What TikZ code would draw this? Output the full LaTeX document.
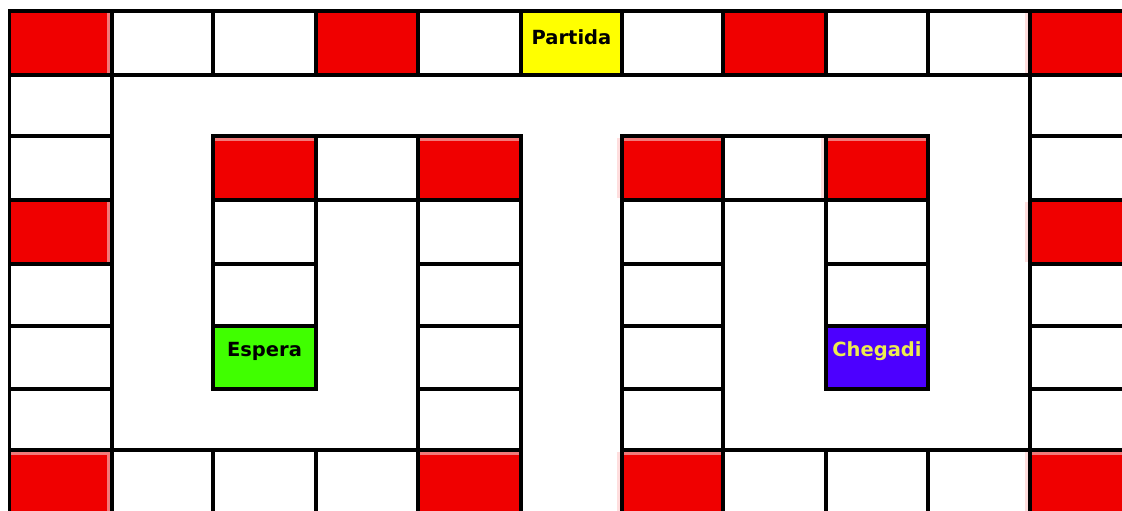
\documentclass[tikz,border=0pt]{standalone}
\usepackage{fontspec}
\newfontfamily\lblfont{DejaVu Sans}[BoldFont={DejaVu Sans Bold}]
\definecolor{boardred}{RGB}{240,0,0}
\definecolor{striplight}{RGB}{242,122,122}
\definecolor{pinkfaint}{RGB}{255,222,222}
\definecolor{startyellow}{RGB}{255,255,0}
\definecolor{waitgreen}{RGB}{64,255,0}
\definecolor{goalblue}{RGB}{76,0,255}
\definecolor{goaltext}{RGB}{236,236,80}
\tikzset{
  cellbox/.style={draw=black, line width=3.3pt, rectangle, inner sep=0pt, outer sep=0pt},
  lbl/.style={font=\lblfont\bfseries\fontsize{19.5}{23}\selectfont, inner sep=0pt, anchor=center},
  stripfill/.style={fill=striplight},
  pinkfill/.style={fill=pinkfaint}
}
\def\xs{{9.5,112,213,316,418,521,622,723,826,928,1030,1132}}
\def\ys{{11,75,136,200,264,326,389,450,513}}
\newcommand\boardcell[3][white]{%
  \pgfmathsetmacro\xa{\xs[#3]}\pgfmathsetmacro\xb{\xs[#3+1]}%
  \pgfmathsetmacro\ya{\ys[#2]}\pgfmathsetmacro\yb{\ys[#2+1]}%
  \pgfmathsetmacro\cw{\xb-\xa}\pgfmathsetmacro\ch{\yb-\ya}%
  \pgfmathsetmacro\cx{(\xa+\xb)/2}\pgfmathsetmacro\cy{(\ya+\yb)/2}%
  \node[cellbox, fill=#1, minimum width=\cw pt, minimum height=\ch pt] (c#2-#3) at (\cx,\cy) {};%
}
\newcommand\topstrip[1]{\fill[stripfill] ([xshift=1.65pt,yshift=-1.65pt]#1.north west) rectangle ([xshift=-1.65pt,yshift=-5pt]#1.north east);}
\newcommand\rightstrip[1]{\fill[stripfill] ([xshift=-5pt,yshift=-1.65pt]#1.north east) rectangle ([xshift=-1.65pt,yshift=1.65pt]#1.south east);}
\newcommand\leftpink[1]{\fill[pinkfill] ([xshift=-5pt,yshift=-1.65pt]#1.north west) rectangle ([xshift=-1.65pt,yshift=1.65pt]#1.south west);}
\begin{document}
\begin{tikzpicture}[x=1pt,y=-1pt]
\clip (0,0) rectangle (1122,511);
\fill[white] (0,0) rectangle (1122,511);
% row 0
\boardcell[boardred]{0}{0}
\boardcell{0}{1}
\boardcell{0}{2}
\boardcell[boardred]{0}{3}
\boardcell{0}{4}
\boardcell[startyellow]{0}{5}
\boardcell{0}{6}
\boardcell[boardred]{0}{7}
\boardcell{0}{8}
\boardcell{0}{9}
\boardcell[boardred]{0}{10}
% row 1
\boardcell{1}{0}
\boardcell{1}{10}
% row 2
\boardcell{2}{0}
\boardcell[boardred]{2}{2}
\boardcell{2}{3}
\boardcell[boardred]{2}{4}
\boardcell[boardred]{2}{6}
\boardcell{2}{7}
\boardcell[boardred]{2}{8}
\boardcell{2}{10}
% row 3
\boardcell[boardred]{3}{0}
\boardcell{3}{2}
\boardcell{3}{4}
\boardcell{3}{6}
\boardcell{3}{8}
\boardcell[boardred]{3}{10}
% row 4
\boardcell{4}{0}
\boardcell{4}{2}
\boardcell{4}{4}
\boardcell{4}{6}
\boardcell{4}{8}
\boardcell{4}{10}
% row 5
\boardcell{5}{0}
\boardcell[waitgreen]{5}{2}
\boardcell{5}{4}
\boardcell{5}{6}
\boardcell[goalblue]{5}{8}
\boardcell{5}{10}
% row 6
\boardcell{6}{0}
\boardcell{6}{4}
\boardcell{6}{6}
\boardcell{6}{10}
% row 7
\boardcell[boardred]{7}{0}
\boardcell{7}{1}
\boardcell{7}{2}
\boardcell{7}{3}
\boardcell[boardred]{7}{4}
\boardcell[boardred]{7}{6}
\boardcell{7}{7}
\boardcell{7}{8}
\boardcell{7}{9}
\boardcell[boardred]{7}{10}
% light edges on red squares
\rightstrip{c0-0}
\rightstrip{c3-0}
\rightstrip{c7-0}\topstrip{c7-0}
\topstrip{c2-2}
\topstrip{c2-4}
\topstrip{c2-6}\leftpink{c2-6}
\topstrip{c2-8}\leftpink{c2-8}
\topstrip{c7-4}
\topstrip{c7-6}\leftpink{c7-6}
\topstrip{c7-10}\leftpink{c7-10}
\leftpink{c0-10}
\leftpink{c3-10}
% labels
\node[lbl, text=black] (tpartida) at ([yshift=6pt]c0-5.center) {Partida};
\node[lbl, text=black] (tespera) at ([yshift=6pt]c5-2.center) {Espera};
\node[lbl, text=goaltext] (tchegadi) at ([yshift=6pt]c5-8.center) {Chegadi};
\end{tikzpicture}
\end{document}
